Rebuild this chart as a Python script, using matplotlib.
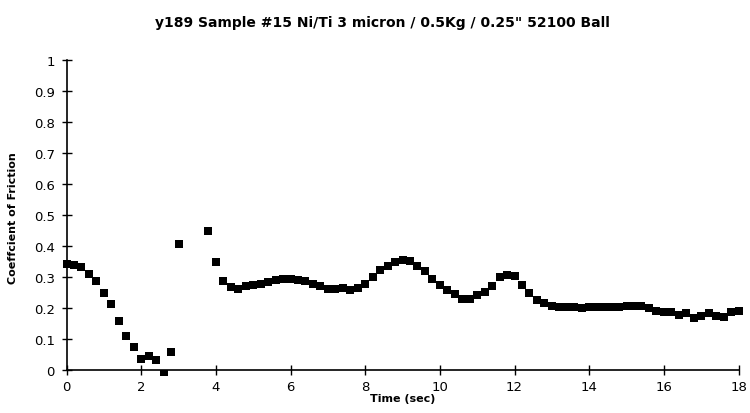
import matplotlib
matplotlib.use('Agg')
import matplotlib.pyplot as plt

# friction trace, sampled every 0.2 s (no readings between 3.0 and 3.8 s)
time_sec = [0.0, 0.2, 0.4, 0.6, 0.8, 1.0, 1.2, 1.4, 1.6, 1.8, 2.0, 2.2, 2.4, 2.6, 2.8, 3.0,
            3.8, 4.0, 4.2, 4.4, 4.6, 4.8, 5.0, 5.2, 5.4, 5.6, 5.8, 6.0, 6.2, 6.4, 6.6, 6.8,
            7.0, 7.2, 7.4, 7.6, 7.8, 8.0, 8.2, 8.4, 8.6, 8.8, 9.0, 9.2, 9.4, 9.6, 9.8, 10.0,
            10.2, 10.4, 10.6, 10.8, 11.0, 11.2, 11.4, 11.6, 11.8, 12.0, 12.2, 12.4, 12.6, 12.8,
            13.0, 13.2, 13.4, 13.6, 13.8, 14.0, 14.2, 14.4, 14.6, 14.8, 15.0, 15.2, 15.4, 15.6,
            15.8, 16.0, 16.2, 16.4, 16.6, 16.8, 17.0, 17.2, 17.4, 17.6, 17.8, 18.0]
cof = [0.343, 0.338, 0.333, 0.309, 0.287, 0.248, 0.212, 0.157, 0.109, 0.073, 0.035, 0.045,
       0.032, -0.012, 0.057, 0.408,
       0.448, 0.349, 0.286, 0.268, 0.262, 0.271, 0.273, 0.277, 0.285, 0.290, 0.293, 0.294,
       0.291, 0.287, 0.276, 0.270, 0.262, 0.260, 0.264, 0.257, 0.264, 0.276, 0.300, 0.324,
       0.335, 0.348, 0.356, 0.353, 0.337, 0.319, 0.294, 0.273, 0.257, 0.246, 0.230, 0.230,
       0.243, 0.253, 0.270, 0.301, 0.306, 0.302, 0.274, 0.248, 0.227, 0.215, 0.206, 0.202,
       0.202, 0.202, 0.200, 0.202, 0.202, 0.204, 0.202, 0.202, 0.205, 0.207, 0.207, 0.199,
       0.189, 0.186, 0.186, 0.178, 0.184, 0.168, 0.173, 0.184, 0.175, 0.172, 0.186, 0.189]

x_ticks = [0, 2, 4, 6, 8, 10, 12, 14, 16, 18]
y_ticks = [0, 0.1, 0.2, 0.3, 0.4, 0.5, 0.6, 0.7, 0.8, 0.9, 1]
y_ticklabels = ['0', '0.1', '0.2', '0.3', '0.4', '0.5', '0.6', '0.7', '0.8', '0.9', '1']

fig = plt.figure(figsize=(7.5, 4.14), dpi=100)
ax = fig.add_axes([0.0827, 0.0926, 0.908, 0.760])

ax.scatter(time_sec, cof, marker='s', s=32, color='black', linewidths=0, zorder=3)

ax.set_xlim(-0.12, 18.12)
ax.set_ylim(-0.015, 1.0)

for side in ['top', 'right']:
    ax.spines[side].set_visible(False)
ax.spines['left'].set_position(('data', 0))
ax.spines['bottom'].set_position(('data', 0))
ax.spines['left'].set_bounds(0, 1)
ax.spines['bottom'].set_bounds(0, 18)
ax.spines['left'].set_linewidth(1.2)
ax.spines['bottom'].set_linewidth(1.2)

ax.set_xticks(x_ticks)
ax.set_xticklabels([str(t) for t in x_ticks])
ax.set_yticks(y_ticks)
ax.set_yticklabels(y_ticklabels)
ax.tick_params(direction='inout', length=7, width=1, labelsize=9.5)
ax.tick_params(axis='y', pad=5)
ax.tick_params(axis='x', pad=4)

ax.set_xlabel('Time (sec)', fontsize=8, fontweight='bold', labelpad=0)
ax.set_ylabel('Coeffcient of Friction', fontsize=8, fontweight='bold')
ax.yaxis.set_label_coords(-0.064, 0.5)

fig.suptitle('y189 Sample #15 Ni/Ti 3 micron / 0.5Kg / 0.25" 52100 Ball',
             x=0.51, y=0.962, fontsize=10, fontweight='bold')

fig.savefig('out.png', dpi=100)
